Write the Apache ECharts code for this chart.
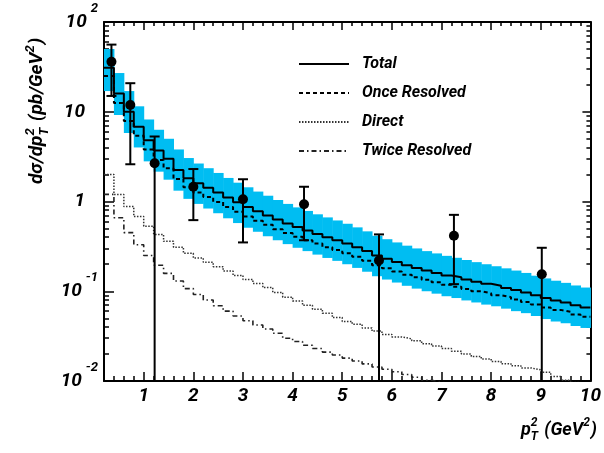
<!DOCTYPE html>
<html><head><meta charset="utf-8">
<script src="https://cdn.jsdelivr.net/npm/echarts@6/dist/echarts.min.js"></script>
<style>html,body{margin:0;padding:0;background:#fff}#c{width:604px;height:453px}</style>
</head><body><div id="c"></div>
<script>
// ---------- data ----------
const binEdges = [0.2,0.4,0.6,0.8,1.0,1.2,1.4,1.6,1.8,2.0,2.2,2.4,2.6,2.8,3.0,3.2,3.4,3.6,3.8,4.0,
  4.2,4.4,4.6,4.8,5.0,5.2,5.4,5.6,5.8,6.0,6.2,6.4,6.6,6.8,7.0,7.2,7.4,7.6,7.8,8.0,
  8.2,8.4,8.6,8.8,9.0,9.2,9.4,9.6,9.8,10.0];
const totalVals = [31,16,10,6.8,4.8,3.7,3.0,2.25,1.82,1.6,1.42,1.26,1.11,0.98,0.87,0.78,0.70,0.63,0.57,0.52,
  0.475,0.435,0.40,0.37,0.34,0.31,0.28,0.25,0.23,0.212,0.195,0.182,0.170,0.160,0.150,0.143,0.135,0.128,0.121,0.115,
  0.109,0.103,0.097,0.090,0.084,0.079,0.075,0.070,0.066];
const onceVals = [25,12.5,7.9,5.4,3.8,2.9,2.35,1.78,1.44,1.26,1.12,0.99,0.87,0.77,0.68,0.61,0.55,0.49,0.445,0.405,
  0.37,0.34,0.31,0.288,0.265,0.242,0.218,0.195,0.18,0.166,0.153,0.143,0.134,0.126,0.118,0.112,0.106,0.1,0.095,0.09,
  0.086,0.081,0.076,0.071,0.066,0.062,0.059,0.055,0.052];
const directVals = [2.0,1.2,0.88,0.68,0.53,0.43,0.36,0.31,0.265,0.235,0.21,0.188,0.168,0.15,0.135,0.122,0.11,0.097,0.086,0.078,
  0.07,0.063,0.057,0.051,0.046,0.043,0.039,0.036,0.033,0.031,0.0295,0.028,0.026,0.0245,0.023,0.0215,0.020,0.0188,0.0176,0.0165,
  0.0156,0.0148,0.014,0.0133,0.0125,0.0112,0.0102,0.0096,0.0094];
const twiceVals = [1.2,0.66,0.45,0.33,0.25,0.195,0.158,0.13,0.107,0.092,0.08,0.069,0.06,0.053,0.047,0.042,0.038,0.034,0.030,0.0275,
  0.025,0.023,0.021,0.0195,0.018,0.0167,0.0155,0.0143,0.0135,0.0127,0.0118,0.011,0.0102,0.0097,0.0093,0.009,0.0086,0.0083,0.008,0.0077,
  0.0074,0.0071,0.0069,0.0066,0.0064,0.0062,0.006,0.0058,0.0056];
const bandHigh = [50,27,17,11.5,8.2,6.3,5.0,3.8,3.05,2.65,2.35,2.08,1.83,1.62,1.44,1.29,1.16,1.04,0.94,0.86,
  0.785,0.72,0.665,0.615,0.565,0.515,0.465,0.415,0.38,0.35,0.322,0.3,0.28,0.264,0.248,0.236,0.223,0.211,0.2,0.19,
  0.18,0.17,0.16,0.149,0.139,0.131,0.124,0.116,0.11];
const bandLow = [17,9.2,5.8,4.0,2.8,2.15,1.75,1.32,1.07,0.94,0.835,0.74,0.65,0.575,0.51,0.46,0.41,0.37,0.335,0.305,
  0.28,0.256,0.235,0.218,0.2,0.182,0.165,0.147,0.135,0.125,0.115,0.107,0.1,0.094,0.088,0.084,0.079,0.075,0.071,0.068,
  0.064,0.06,0.057,0.053,0.049,0.046,0.044,0.041,0.039];
const dataX = [0.35,0.73,1.22,2.0,3.0,4.23,5.74,7.25,9.02];
const dataY = [36,11.9,2.67,1.46,1.06,0.93,0.22,0.416,0.155];
const dataLow = [15,2.6,0.005,0.62,0.35,0.37,0.005,0.12,0.005];
const dataHigh = [56,20.8,5.3,2.3,1.77,1.46,0.43,0.71,0.305];
const xTickLabels = [1,2,3,4,5,6,7,8,9,10];
const yTickValues = [0.01,0.1,1,10,100];
const legendNames = ['Total','Once Resolved','Direct','Twice Resolved'];

// ---------- helpers ----------
const FONT = "Roboto, 'Liberation Sans', Arial, sans-serif";
const CYAN = '#00BDF2';
const xMinor = [];
for (let k = 2; k <= 49; k++) { if (k % 5 !== 0) xMinor.push(+(k * 0.2).toFixed(1)); }
const yMinor = [];
for (let e = -2; e <= 1; e++) for (let m = 2; m <= 9; m++) yMinor.push(+(m * Math.pow(10, e)).toPrecision(3));

function histPoints(vals) {
  const pts = [];
  for (let i = 0; i < vals.length; i++) { pts.push([binEdges[i], vals[i]]); pts.push([binEdges[i + 1], vals[i]]); }
  return pts;
}
const bandData = bandLow.map((lo, i) => [binEdges[i], binEdges[i + 1], lo, bandHigh[i]]);
const errData = dataX.map((x, i) => [x, dataLow[i], dataHigh[i]]);
const ptData = dataX.map((x, i) => [x, dataY[i]]);

const ctx = document.createElement('canvas').getContext('2d');
function measure(t, size) { ctx.font = 'italic bold ' + size + 'px ' + FONT; return ctx.measureText(t).width; }
function buildParts(parts) {
  let x = 0; const kids = [];
  parts.forEach(p => {
    kids.push({ type: 'text', x: x, y: p.dy || 0,
      style: { text: p.t, fontFamily: FONT, fontSize: p.size, fontWeight: 'bold', fontStyle: 'italic',
        fill: '#000', align: 'left', verticalAlign: 'middle' } });
    if (!p.stack) x += measure(p.t, p.size) + (p.gap || 0);
  });
  return { kids, width: x };
}
const yTitle = buildParts([
  { t: 'd\u03c3/dp', size: 19 }, { t: '2', size: 13, dy: -6, stack: true }, { t: 'T', size: 13, dy: 8, gap: 2 },
  { t: ' (pb/GeV', size: 19 }, { t: '2', size: 13, dy: -6, gap: 1 }, { t: ')', size: 19 }]);
const xTitle = buildParts([
  { t: 'p', size: 18 }, { t: '2', size: 12, dy: -7, stack: true }, { t: 'T', size: 12, dy: 7, gap: 2 },
  { t: ' (GeV', size: 18 }, { t: '2', size: 12, dy: -7, gap: 1 }, { t: ')', size: 18 }]);

const labelFont = { fontFamily: FONT, fontSize: 19, fontWeight: 'bold', fontStyle: 'italic', color: '#000' };
function xAx(pos, ticks, len, showLabel, showLine) {
  return { type: 'value', position: pos, min: 0.2, max: 10,
    axisLine: { show: showLine, onZero: false, lineStyle: { color: '#000', width: 2 } },
    axisTick: { show: true, inside: true, length: len, customValues: ticks, lineStyle: { color: '#000', width: 1.5 } },
    axisLabel: Object.assign({ show: showLabel, customValues: xTickLabels, margin: 6 }, labelFont),
    splitLine: { show: false } };
}
function yAx(pos, ticks, len, showLabel, showLine) {
  return { type: 'log', logBase: 10, position: pos, min: 0.01, max: 100,
    axisLine: { show: showLine, onZero: false, lineStyle: { color: '#000', width: 2 } },
    axisTick: { show: true, inside: true, length: len, customValues: ticks, lineStyle: { color: '#000', width: 1.5 } },
    axisLabel: { show: showLabel, customValues: yTickValues, margin: 6,
      formatter: v => {
        const e = Math.round(Math.log10(v));
        if (e === 0) return '{bp|1}';
        if (e === 1) return '{bp|10}';
        return '{b|10}{s|' + e + '}';
      },
      rich: {
        b: Object.assign({ lineHeight: 40, verticalAlign: 'middle' }, labelFont),
        bp: Object.assign({ lineHeight: 40, verticalAlign: 'middle', padding: [0, 13, 0, 0] }, labelFont),
        s: { fontFamily: FONT, fontSize: 13, fontWeight: 'bold', fontStyle: 'italic', color: '#000',
          lineHeight: 14, verticalAlign: 'top', padding: [0, 0, 0, 4] }
      } },
    splitLine: { show: false } };
}

const chart = echarts.init(document.getElementById('c'), null, { renderer: 'canvas' });
chart.setOption({
  animation: false,
  backgroundColor: '#fff',
  grid: { left: 104, right: 10, top: 22, bottom: 72, containLabel: false },
  xAxis: [xAx('bottom', xTickLabels, 9, true, true), xAx('bottom', xMinor, 5, false, false),
          xAx('top', xTickLabels, 8, false, true), xAx('top', xMinor, 4, false, false)],
  yAxis: [yAx('left', yTickValues, 10, true, true), yAx('left', yMinor, 5, false, false),
          yAx('right', yTickValues, 8, false, true), yAx('right', yMinor, 4, false, false)],
  legend: {
    data: legendNames, orient: 'vertical', left: 293, top: 51, itemWidth: 50, itemHeight: 14, itemGap: 13,
    itemStyle: { color: 'rgba(0,0,0,0)', borderColor: 'rgba(0,0,0,0)', borderWidth: 0, opacity: 0 },
    textStyle: { fontFamily: FONT, fontSize: 16, fontWeight: 'bold', fontStyle: 'italic', color: '#000',
      lineHeight: 14, padding: [0, 0, 0, 8] }
  },
  graphic: [
    { type: 'group', x: 37, y: 184, rotation: Math.PI / 2, children: yTitle.kids },
    { type: 'group', x: 597 - xTitle.width, y: 430, children: xTitle.kids }
  ],
  series: [
    { type: 'custom', name: 'band', silent: true, z: 1, data: bandData, encode: { x: [0, 1], y: [2, 3] },
      renderItem: (params, api) => {
        const p0 = api.coord([api.value(0), api.value(3)]);
        const p1 = api.coord([api.value(1), api.value(2)]);
        return { type: 'rect', shape: { x: p0[0], y: p0[1], width: p1[0] - p0[0] + 0.5, height: p1[1] - p0[1] },
          style: { fill: CYAN } };
      } },
    { type: 'line', name: 'Twice Resolved', data: histPoints(twiceVals), symbol: 'none', z: 3, clip: true,
      itemStyle: { color: '#222' }, lineStyle: { color: '#222', width: 1.6, type: [5, 3, 1.5, 3] } },
    { type: 'line', name: 'Direct', data: histPoints(directVals), symbol: 'none', z: 3, clip: true,
      itemStyle: { color: '#333' }, lineStyle: { color: '#333', width: 1.5, type: [1.5, 1.5] } },
    { type: 'line', name: 'Once Resolved', data: histPoints(onceVals), symbol: 'none', z: 4, clip: true,
      itemStyle: { color: '#000' }, lineStyle: { color: '#000', width: 2, type: [4, 3] } },
    { type: 'line', name: 'Total', data: histPoints(totalVals), symbol: 'none', z: 4, clip: true,
      itemStyle: { color: '#000' }, lineStyle: { color: '#000', width: 2, type: 'solid' } },
    { type: 'custom', name: 'err', silent: true, z: 5, data: errData, encode: { x: 0, y: [1, 2] },
      renderItem: (params, api) => {
        const cs = params.coordSys;
        const x = api.value(0);
        const pt = api.coord([x, api.value(2)]);
        const pb = api.coord([x, api.value(1)]);
        const bottom = cs.y + cs.height;
        const kids = [];
        const cw = 5;
        let yb = pb[1], capB = true;
        if (yb > bottom) { yb = bottom; capB = false; }
        const st = { stroke: '#000', lineWidth: 2 };
        kids.push({ type: 'line', shape: { x1: pt[0], y1: pt[1], x2: pt[0], y2: yb }, style: st });
        kids.push({ type: 'line', shape: { x1: pt[0] - cw, y1: pt[1], x2: pt[0] + cw, y2: pt[1] }, style: st });
        if (capB) kids.push({ type: 'line', shape: { x1: pb[0] - cw, y1: yb, x2: pb[0] + cw, y2: yb }, style: st });
        return { type: 'group', children: kids };
      } },
    { type: 'scatter', name: 'data', data: ptData, symbol: 'circle', symbolSize: 10, z: 6,
      itemStyle: { color: '#000', opacity: 1 } }
  ]
});
</script></body></html>
